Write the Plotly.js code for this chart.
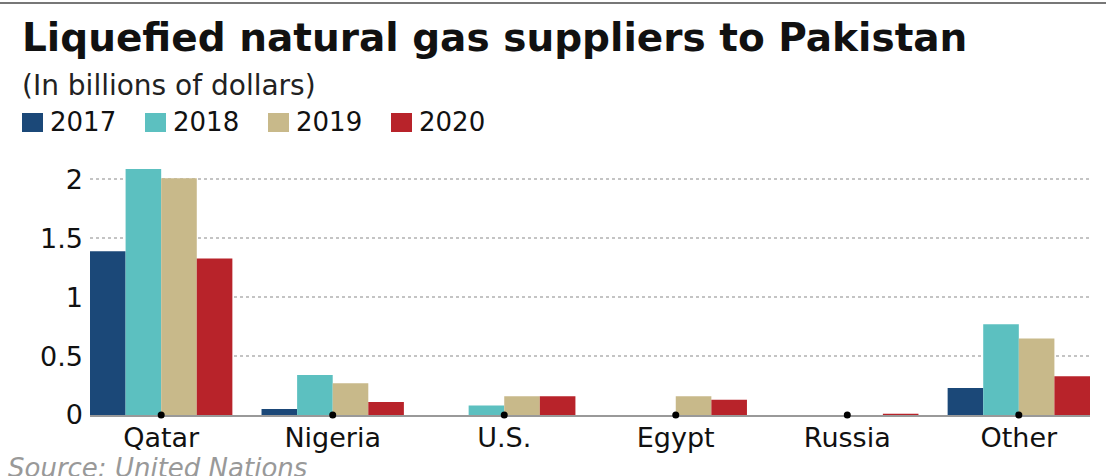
<!DOCTYPE html>
<html>
<head>
<meta charset="utf-8">
<script src="https://cdn.plot.ly/plotly-3.0.1.min.js"></script>
<style>html,body{margin:0;padding:0;background:#fff;}#chart{width:1106px;height:476px;}</style>
</head>
<body>
<div id="chart"></div>
<script>
const categories = ['Qatar', 'Nigeria', 'U.S.', 'Egypt', 'Russia', 'Other'];
const years = ['2017', '2018', '2019', '2020'];
const v2017 = [1.39, 0.05, 0, 0, 0, 0.23];
const v2018 = [2.09, 0.34, 0.08, 0, 0, 0.77];
const v2019 = [2.01, 0.27, 0.16, 0.16, 0, 0.65];
const v2020 = [1.33, 0.11, 0.16, 0.13, 0.01, 0.33];
const yTickVals = [0, 0.5, 1, 1.5, 2];
const yTickText = ['0', '0.5', '1', '1.5', '2'];
const titleText = 'Liquefied natural gas suppliers to Pakistan';
const subtitleText = '(In billions of dollars)';
const sourceText = 'Source: United Nations';

const seriesValues = [v2017, v2018, v2019, v2020];
const colors = ['#1b4878', '#5cc0c0', '#c8b98a', '#b8232a'];
const FONT = 'DejaVu Sans, Arial, sans-serif';

// pixel helpers (plot area: x 90..1090, y 163..415)
const L = 90, R = 1090, T = 163, B = 415;
const px = p => (p - L) / (R - L);
const py = p => (B - p) / (B - T);

const traces = years.map((yr, i) => ({
  type: 'bar', name: yr, x: categories, y: seriesValues[i],
  marker: {color: colors[i], line: {width: 0}},
  showlegend: false, hoverinfo: 'x+y+name'
}));
traces.push({
  type: 'scatter', mode: 'markers', x: categories, y: categories.map(() => 0),
  marker: {color: '#000', size: 7}, cliponaxis: false, showlegend: false, hoverinfo: 'skip'
});

const shapes = [{
  type: 'line', xref: 'paper', yref: 'paper', x0: px(0), x1: px(1106), y0: py(3), y1: py(3),
  line: {color: '#777', width: 2}
}];
const annotations = [
  {text: '<b>' + titleText + '</b>', xref: 'paper', yref: 'paper', x: px(20), y: py(37),
   xanchor: 'left', yanchor: 'middle', showarrow: false, font: {family: FONT, size: 39, color: '#111'}},
  {text: subtitleText, xref: 'paper', yref: 'paper', x: px(20), y: py(85),
   xanchor: 'left', yanchor: 'middle', showarrow: false, font: {family: FONT, size: 28, color: '#222'}},
  {text: '<i>' + sourceText + '</i>', xref: 'paper', yref: 'paper', x: px(6), y: py(468),
   xanchor: 'left', yanchor: 'middle', showarrow: false, font: {family: FONT, size: 26, color: '#999'}}
];
const legX = [22, 145, 268, 391];
years.forEach((yr, i) => {
  shapes.push({type: 'rect', xref: 'paper', yref: 'paper', x0: px(legX[i]), x1: px(legX[i] + 21),
    y0: py(132), y1: py(113), fillcolor: colors[i], line: {width: 0}});
  annotations.push({text: yr, xref: 'paper', yref: 'paper', x: px(legX[i] + 26), y: py(122),
    xanchor: 'left', yanchor: 'middle', showarrow: false, font: {family: FONT, size: 26, color: '#111'}});
});

const layout = {
  width: 1106, height: 476,
  margin: {l: L, r: 1106 - R, t: T, b: 476 - B},
  paper_bgcolor: '#fff', plot_bgcolor: '#fff',
  barmode: 'group', bargap: 0.17, bargroupgap: 0,
  showlegend: false,
  xaxis: {
    range: [-0.415, 5.415], showgrid: false, zeroline: false,
    showline: true, linecolor: '#999', linewidth: 2, layer: 'below traces',
    ticks: '', tickfont: {family: FONT, size: 27, color: '#111'}, ticklabelstandoff: -2,
    fixedrange: true
  },
  yaxis: {
    range: [0, 2.14], tickvals: yTickVals, ticktext: yTickText,
    showgrid: true, gridcolor: '#c4c4c4', gridwidth: 2, griddash: 'dot',
    zeroline: false, showline: false, ticks: '', layer: 'below traces',
    tickfont: {family: FONT, size: 27, color: '#111'}, ticklabelstandoff: 6,
    fixedrange: true
  },
  shapes: shapes, annotations: annotations
};

Plotly.newPlot('chart', traces, layout, {displayModeBar: false, staticPlot: true});
</script>
</body>
</html>
